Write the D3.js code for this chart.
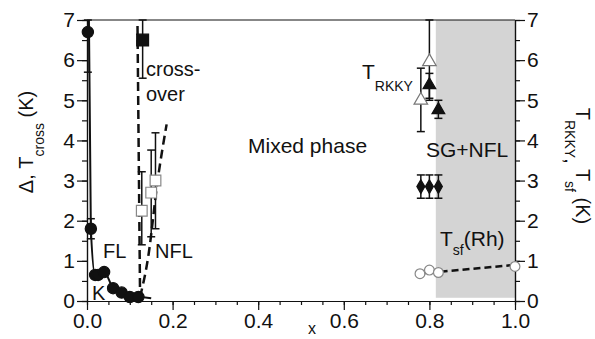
<!DOCTYPE html>
<html>
<head>
<meta charset="utf-8">
<script src="https://cdn.jsdelivr.net/npm/d3@7"></script>
<style>
  body { margin: 0; background: #fff; }
  text { font-family: "Liberation Sans", Arial, Helvetica, sans-serif; fill: #111; }
</style>
</head>
<body>
<div id="chart"></div>
<script>
// Fermi-liquid circles (Delta)
const flX = [0.002, 0.009, 0.019, 0.026, 0.040, 0.061, 0.081, 0.100, 0.120];
const flY = [6.7, 1.8, 0.65, 0.65, 0.72, 0.32, 0.21, 0.10, 0.10];
const flErr = [[5.7, 7.0], [1.55, 2.05], null, null, null, null, null, null, null];
const flCurveX = [0.0045, 0.009, 0.019, 0.026, 0.040, 0.061, 0.081, 0.100, 0.120, 0.150];
const flCurveY = [7.0, 1.8, 0.65, 0.65, 0.72, 0.32, 0.21, 0.10, 0.10, 0.07];

// crossover filled square
const coX = [0.130];
const coY = [6.5];
const coErr = [[5.55, 7.0]];

// NFL open squares
const nflX = [0.128, 0.150, 0.160];
const nflY = [2.25, 2.7, 3.0];
const nflErr = [[1.4, 3.22], [1.6, 3.76], [1.8, 4.19]];

// dashed crossover boundaries
const dashLeftX = [0.118, 0.124];
const dashLeftY = [6.85, 0.1];
const dashRightX = [0.124, 0.143, 0.165, 0.186];
const dashRightY = [0.1, 1.1, 3.0, 4.4];

// T_RKKY open / filled triangles
const openTriX = [0.780, 0.800];
const openTriY = [5.0, 5.96];
const openTriErr = [[4.22, 5.8], [5.0, 7.0]];
const fillTriX = [0.800, 0.821];
const fillTriY = [5.38, 4.76];
const fillTriErr = [[5.05, 5.67], [4.55, 5.0]];

// diamonds
const diaX = [0.780, 0.800, 0.821];
const diaY = [2.85, 2.85, 2.85];
const diaErr = [[2.56, 3.14], [2.56, 3.14], [2.56, 3.14]];

// T_sf(Rh) open circles and dashed fit
const sfX = [0.778, 0.800, 0.821, 1.0];
const sfY = [0.68, 0.77, 0.71, 0.86];
const sfFitX = [0.775, 1.0];
const sfFitY = [0.68, 0.90];

// shaded SG+NFL region
const shadeX = [0.815, 1.0];
const shadeY = [0.08, 7.0];

const xMajor = [0, 0.2, 0.4, 0.6, 0.8, 1.0];
const xMinor = d3.range(0, 1.0001, 0.05);
const yMajor = [0, 1, 2, 3, 4, 5, 6, 7];
const yMinor = d3.range(0, 7.0001, 0.5);

const W = 595, H = 339;
const margin = { top: 20, right: 80, bottom: 38, left: 87 };

const svg = d3.select("#chart")
  .append("svg")
    .attr("width", W)
    .attr("height", H);

const x = d3.scaleLinear().domain([0, 1]).range([margin.left, W - margin.right]);
const y = d3.scaleLinear().domain([0, 7]).range([H - margin.bottom, margin.top]);

// shaded region
svg.append("rect")
  .attr("x", x(shadeX[0]))
  .attr("y", y(shadeY[1]))
  .attr("width", x(shadeX[1]) - x(shadeX[0]))
  .attr("height", y(shadeY[0]) - y(shadeY[1]))
  .attr("fill", "#d4d4d4");

// frame top line
svg.append("line")
  .attr("x1", x(0)).attr("x2", x(1))
  .attr("y1", y(7)).attr("y2", y(7))
  .attr("stroke", "#111").attr("stroke-width", 1.2);

// axes
function styleAxis(g) {
  g.selectAll("path").attr("stroke", "#111").attr("stroke-width", 1.2);
  g.selectAll("line").attr("stroke", "#111").attr("stroke-width", 1.2);
  g.selectAll("text").style("font-size", "21px")
    .style("font-family", "'Liberation Sans', Arial, sans-serif").attr("fill", "#111");
}

svg.append("g")
  .attr("transform", `translate(0,${y(0)})`)
  .call(d3.axisBottom(x).tickValues(xMinor).tickSize(4).tickFormat("").tickSizeOuter(0))
  .call(styleAxis);
svg.append("g")
  .attr("transform", `translate(0,${y(0)})`)
  .call(d3.axisBottom(x).tickValues(xMajor).tickSize(9).tickPadding(3).tickFormat(d3.format(".1f")).tickSizeOuter(0))
  .call(styleAxis);

svg.append("g")
  .attr("transform", `translate(${x(0)},0)`)
  .call(d3.axisLeft(y).tickValues(yMinor).tickSize(5).tickFormat("").tickSizeOuter(0))
  .call(styleAxis);
svg.append("g")
  .attr("transform", `translate(${x(0)},0)`)
  .call(d3.axisLeft(y).tickValues(yMajor).tickSize(10).tickPadding(2).tickFormat(d3.format("d")).tickSizeOuter(0))
  .call(styleAxis);

svg.append("g")
  .attr("transform", `translate(${x(1)},0)`)
  .call(d3.axisRight(y).tickValues(yMinor).tickSize(5).tickFormat("").tickSizeOuter(0))
  .call(styleAxis);
svg.append("g")
  .attr("transform", `translate(${x(1)},0)`)
  .call(d3.axisRight(y).tickValues(yMajor).tickSize(10).tickPadding(2).tickFormat(d3.format("d")).tickSizeOuter(0))
  .call(styleAxis);

// lines
const line = d3.line().x(d => x(d[0])).y(d => y(d[1]));
const zip = (a, b) => a.map((v, i) => [v, b[i]]);

svg.append("path")
  .attr("d", line.curve(d3.curveMonotoneX)(zip(flCurveX, flCurveY)))
  .attr("fill", "none").attr("stroke", "#111").attr("stroke-width", 2);

const straight = d3.line().x(d => x(d[0])).y(d => y(d[1]));
svg.append("path")
  .attr("d", straight(zip(dashLeftX, dashLeftY)))
  .attr("fill", "none").attr("stroke", "#111").attr("stroke-width", 2.5)
  .attr("stroke-dasharray", "9,5");
svg.append("path")
  .attr("d", straight.curve(d3.curveMonotoneX)(zip(dashRightX, dashRightY)))
  .attr("fill", "none").attr("stroke", "#111").attr("stroke-width", 2.5)
  .attr("stroke-dasharray", "9,5");
svg.append("path")
  .attr("d", d3.line().x(d => x(d[0])).y(d => y(d[1]))(zip(sfFitX, sfFitY)))
  .attr("fill", "none").attr("stroke", "#111").attr("stroke-width", 2.5)
  .attr("stroke-dasharray", "7,4");

// error bars
function errorBars(xs, errs) {
  const g = svg.append("g").attr("stroke", "#111").attr("stroke-width", 1.5);
  xs.forEach((xv, i) => {
    const e = errs[i];
    if (!e) return;
    const px = x(xv);
    g.append("line").attr("x1", px).attr("x2", px).attr("y1", y(e[0])).attr("y2", y(e[1]));
    g.append("line").attr("x1", px - 4).attr("x2", px + 4).attr("y1", y(e[0])).attr("y2", y(e[0]));
    g.append("line").attr("x1", px - 4).attr("x2", px + 4).attr("y1", y(e[1])).attr("y2", y(e[1]));
  });
}
errorBars(flX, flErr);
errorBars(coX, coErr);
errorBars(nflX, nflErr);
errorBars(openTriX, openTriErr);
errorBars(fillTriX, fillTriErr);
errorBars(diaX, diaErr);

// markers
function markers(xs, ys, type, size, fill, stroke) {
  svg.append("g").selectAll("path")
    .data(zip(xs, ys))
    .enter()
    .append("path")
      .attr("transform", d => `translate(${x(d[0])},${y(d[1])})`)
      .attr("d", d3.symbol().type(type).size(size))
      .attr("fill", fill)
      .attr("stroke", stroke)
      .attr("stroke-width", 1.2);
}
markers(flX, flY, d3.symbolCircle, 100, "#111", "#111");
markers(coX, coY, d3.symbolSquare, 140, "#111", "#111");
markers(nflX, nflY, d3.symbolSquare, 115, "#fff", "#888");
markers(openTriX, openTriY, d3.symbolTriangle, 80, "#fff", "#777");
markers(fillTriX, fillTriY, d3.symbolTriangle, 70, "#111", "#111");
markers(diaX, diaY, d3.symbolDiamond, 55, "#111", "#111");
markers(sfX, sfY, d3.symbolCircle, 75, "#fff", "#888");

// labels
function label(txt, px, py, size) {
  return svg.append("text").attr("x", px).attr("y", py).style("font-size", size + "px").text(txt);
}
label("cross-", 146, 76, 20);
label("over", 146, 101, 20);
label("FL", 103, 258, 20);
label("NFL", 155, 258, 20);
label("K", 92, 300, 20);
label("Mixed phase", 248, 153, 21);
label("SG+NFL", 426, 157, 21);

const tr = svg.append("text").attr("x", 362).attr("y", 79).style("font-size", "21px");
tr.append("tspan").text("T");
tr.append("tspan").attr("dy", 12).style("font-size", "14px").text("RKKY");

const ts = svg.append("text").attr("x", 440).attr("y", 246).style("font-size", "21px");
ts.append("tspan").text("T");
ts.append("tspan").attr("dy", 9).style("font-size", "14px").text("sf");
ts.append("tspan").attr("dy", -9).text("(Rh)");

// axis titles
svg.append("text")
  .attr("x", 312).attr("y", 334)
  .attr("text-anchor", "middle")
  .style("font-size", "16px")
  .text("x");

const yl = svg.append("text")
  .attr("transform", "translate(33,142) rotate(-90)")
  .attr("text-anchor", "middle")
  .style("font-size", "20px");
yl.append("tspan").text("Δ, T");
yl.append("tspan").attr("dy", 11).style("font-size", "14px").text("cross");
yl.append("tspan").attr("dy", -11).text(" (K)");

const yr = svg.append("text")
  .attr("transform", "translate(576,166) rotate(90)")
  .attr("text-anchor", "middle")
  .style("font-size", "20px");
yr.append("tspan").text("T");
yr.append("tspan").attr("dy", 11).style("font-size", "14px").text("RKKY");
yr.append("tspan").text(",");
yr.append("tspan").attr("dy", -11).text(" T");
yr.append("tspan").attr("dy", 11).style("font-size", "14px").text("sf");
yr.append("tspan").attr("dy", -11).text(" (K)");
</script>
</body>
</html>
